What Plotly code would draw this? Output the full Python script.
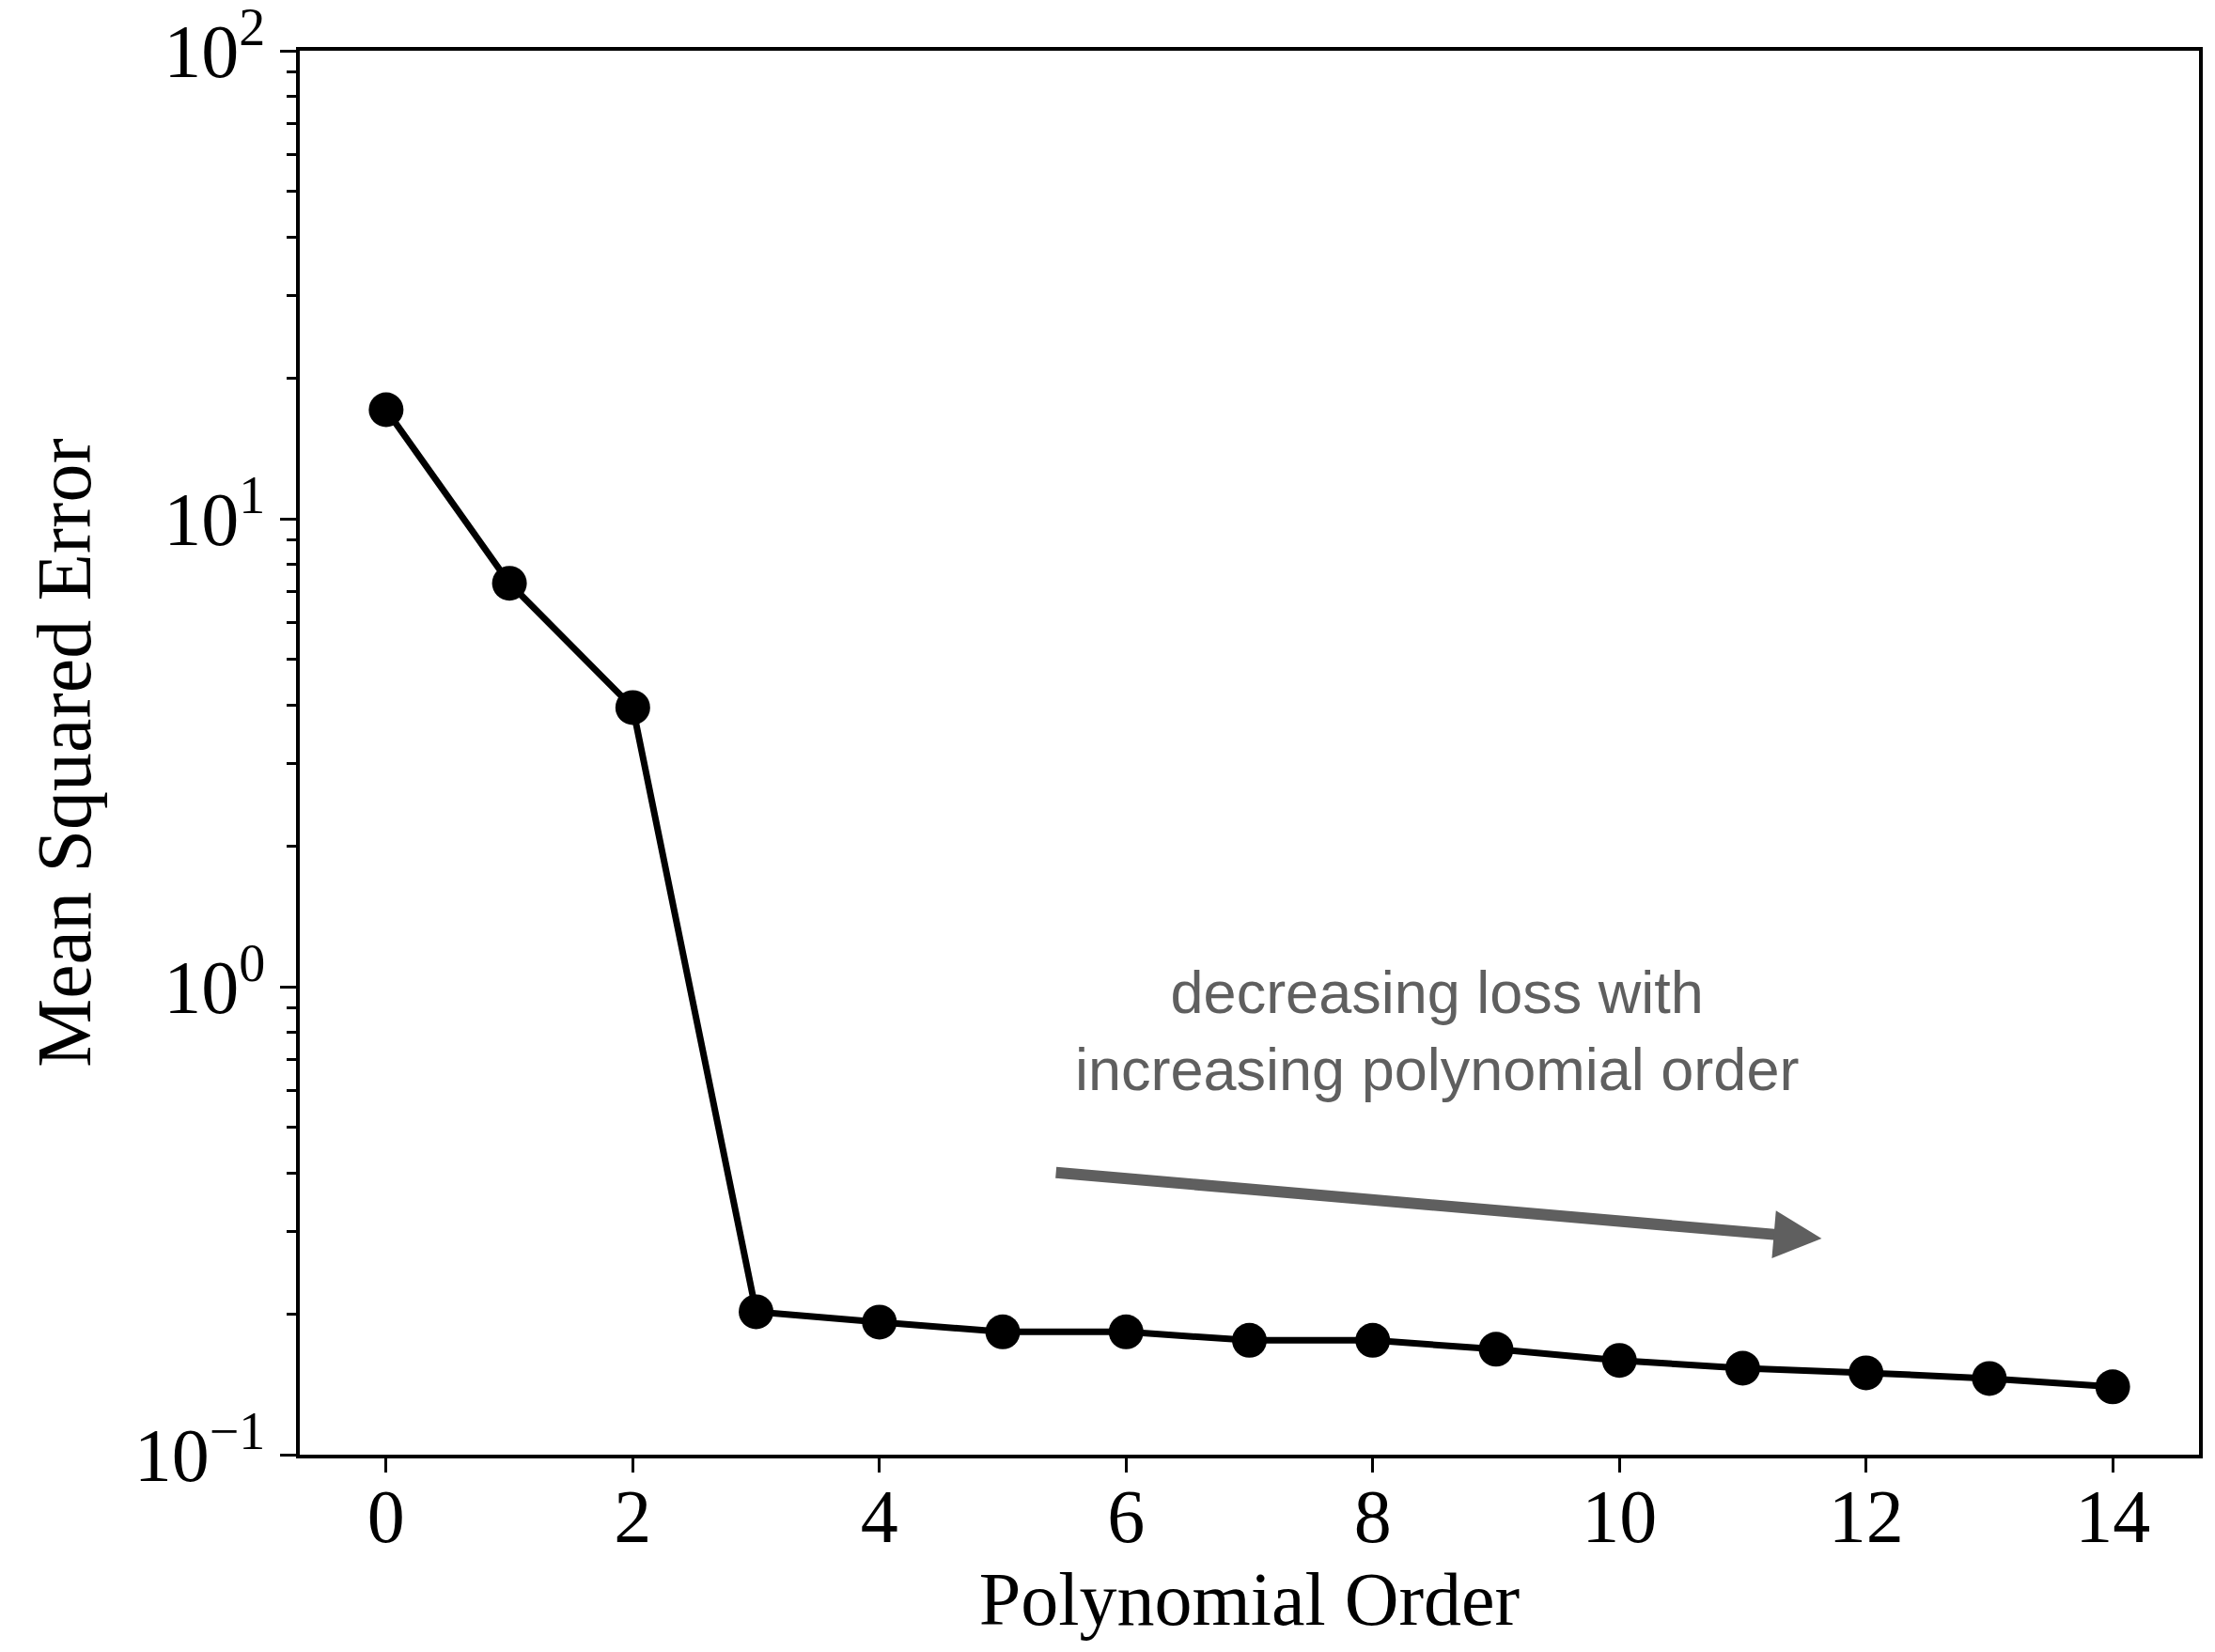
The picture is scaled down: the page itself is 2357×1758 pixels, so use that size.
import plotly.graph_objects as go
import math

orders = list(range(15))
mse = [17.1, 7.28, 3.95, 0.202, 0.192, 0.183, 0.183, 0.1755, 0.1755, 0.168, 0.159, 0.153, 0.1496, 0.1455, 0.1396]

y_major = [0.1, 1, 10, 100]
y_major_text = ["10<sup>\u22121</sup>", "10<sup>0</sup>", "10<sup>1</sup>", "10<sup>2</sup>"]
y_minor = [m * 10 ** e for e in (-1, 0, 1) for m in range(2, 10)]
x_ticks = [0, 2, 4, 6, 8, 10, 12, 14]

note_text = "decreasing loss with<br>increasing polynomial order"
arrow_start = (5.42, 0.401)
arrow_end = (11.64, 0.2896)
note_pos = (8.52, 0.302)

fig = go.Figure()
fig.add_trace(go.Scatter(
    x=orders, y=mse, mode="lines+markers",
    line=dict(color="black", width=7),
    marker=dict(color="black", size=37),
    showlegend=False,
))

fig.add_annotation(
    x=arrow_end[0], y=math.log10(arrow_end[1]), xref="x", yref="y",
    ax=arrow_start[0], ay=math.log10(arrow_start[1]), axref="x", ayref="y",
    text="", showarrow=True, arrowhead=2, arrowsize=0.85, arrowwidth=12,
    arrowcolor="#5f5f5f", standoff=0, startstandoff=0,
)
fig.add_annotation(
    x=note_pos[0], y=note_pos[1], xref="x", yref="paper",
    text=note_text, showarrow=False,
    font=dict(family="Liberation Sans", size=63, color="#5f5f5f"),
    align="center", xanchor="center", yanchor="middle",
)

axis_common = dict(
    showline=True, linecolor="black", linewidth=3.5, mirror=True,
    ticks="outside", tickcolor="black", tickwidth=3, showgrid=False, zeroline=False,
    tickfont=dict(family="Liberation Serif", size=80, color="black"),
    ticklabeloverflow="allow", automargin=False,
)

fig.update_xaxes(
    range=[-0.7, 14.7], tickvals=x_ticks, ticklen=15, ticklabelstandoff=-22,
    title=dict(text="Polynomial Order", font=dict(family="Liberation Serif", size=80, color="black"), standoff=5),
    **axis_common,
)
fig.update_yaxes(
    type="log", range=[-1.0000001, 2.0000001], tickvals=y_major, ticktext=y_major_text, ticklen=17,
    minor=dict(tickvals=y_minor, ticks="outside", ticklen=10, tickwidth=2.5, tickcolor="black", showgrid=False),
    title=dict(text="Mean Squared Error", font=dict(family="Liberation Serif", size=82, color="black"), standoff=20),
    **axis_common,
)

fig.update_layout(
    width=2357, height=1758,
    margin=dict(l=319, r=17, t=54, b=210),
    plot_bgcolor="white", paper_bgcolor="white",
)

fig.write_html("out.html")
